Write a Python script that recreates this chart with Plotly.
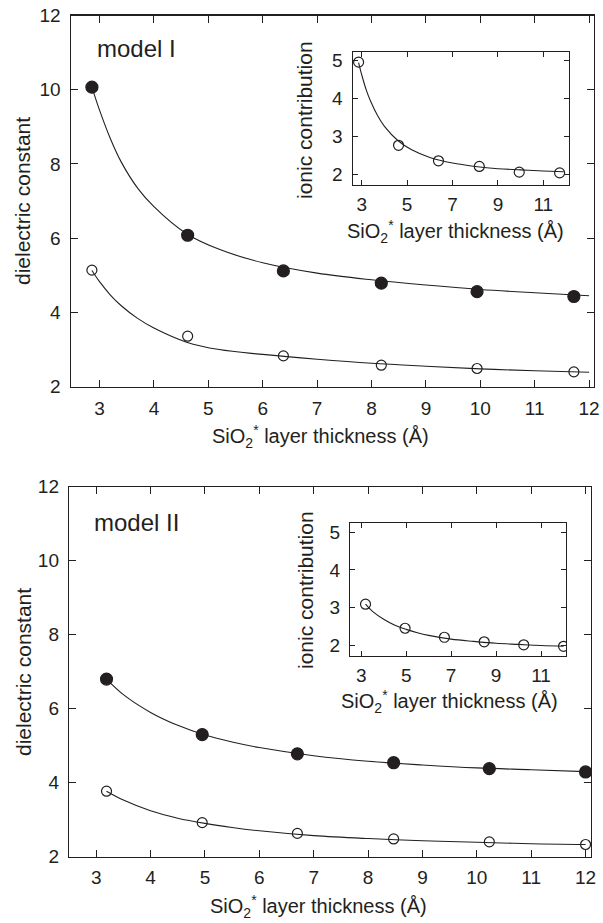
import plotly.graph_objects as go

INK = '#231f20'
FONT = 'Liberation Sans, Arial, Helvetica, sans-serif'
W, H = 603, 923

# ---------------- data ----------------
# model I
x_I = [2.86, 4.62, 6.38, 8.18, 9.94, 11.72]
total_I = [10.07, 6.08, 5.12, 4.79, 4.56, 4.43]
elec_I = [5.14, 3.36, 2.83, 2.58, 2.49, 2.40]
ionic_I = [4.96, 2.76, 2.35, 2.20, 2.05, 2.03]

fitx_I = [2.86, 3.0, 3.2, 3.4, 3.7, 4.0, 4.6, 5.2, 6.0, 7.0, 8.0, 9.0, 10.0, 11.0, 12.0]
fit_total_I = [10.07, 9.45, 8.68, 8.05, 7.35, 6.85, 6.12, 5.70, 5.34, 5.06, 4.88, 4.74, 4.62, 4.53, 4.45]
fit_elec_I = [5.13, 4.83, 4.47, 4.18, 3.84, 3.58, 3.20, 3.00, 2.87, 2.74, 2.63, 2.55, 2.48, 2.43, 2.39]
fitx_ion_I = [2.86, 3.0, 3.2, 3.4, 3.7, 4.0, 4.6, 5.2, 6.0, 7.0, 8.0, 9.0, 10.0, 11.0, 11.9]
fit_ionic_I = [4.95, 4.62, 4.22, 3.91, 3.54, 3.26, 2.88, 2.64, 2.44, 2.29, 2.20, 2.14, 2.11, 2.08, 2.06]

# model II
x_II = [3.19, 4.95, 6.70, 8.47, 10.23, 12.0]
total_II = [6.80, 5.30, 4.78, 4.54, 4.38, 4.29]
elec_II = [3.77, 2.92, 2.63, 2.48, 2.40, 2.33]
ionic_II = [3.09, 2.45, 2.21, 2.09, 2.01, 1.97]

fitx_II = [3.19, 3.5, 4.0, 4.5, 5.0, 5.5, 6.0, 7.0, 8.0, 9.0, 10.0, 11.0, 12.0]
fit_total_II = [6.80, 6.38, 5.90, 5.55, 5.29, 5.10, 4.95, 4.73, 4.58, 4.48, 4.40, 4.35, 4.30]
fit_elec_II = [3.77, 3.53, 3.24, 3.04, 2.90, 2.79, 2.70, 2.57, 2.49, 2.43, 2.39, 2.35, 2.33]
fit_ionic_II = [3.09, 2.90, 2.69, 2.53, 2.42, 2.33, 2.26, 2.16, 2.10, 2.05, 2.02, 1.99, 1.97]

main_xticks = [3, 4, 5, 6, 7, 8, 9, 10, 11, 12]
main_yticks = [2, 4, 6, 8, 10, 12]
inset_xticks = [3, 5, 7, 9, 11]
inset_yticks = [2, 3, 4, 5]

XTITLE = 'SiO<sub>2</sub><sup>*</sup> layer thickness (Å)'


def px(x):
    return x / W


def py(y):
    return 1 - y / H


fig = go.Figure()


def line(xs, ys, xa, ya):
    fig.add_trace(go.Scatter(x=xs, y=ys, mode='lines', xaxis=xa, yaxis=ya,
                             line=dict(color=INK, width=1.1, shape='spline', smoothing=1.0),
                             showlegend=False, hoverinfo='skip'))


def pts(xs, ys, xa, ya, filled, size):
    fig.add_trace(go.Scatter(x=xs, y=ys, mode='markers', xaxis=xa, yaxis=ya,
                             marker=dict(symbol='circle' if filled else 'circle-open', size=size,
                                         color=INK, line=dict(color=INK, width=1.2)),
                             showlegend=False))


# model I main
line(fitx_I, fit_total_I, 'x', 'y')
line(fitx_I, fit_elec_I, 'x', 'y')
pts(x_I, total_I, 'x', 'y', True, 12)
pts(x_I, elec_I, 'x', 'y', False, 10)
# model I inset
line(fitx_ion_I, fit_ionic_I, 'x2', 'y2')
pts(x_I, ionic_I, 'x2', 'y2', False, 10)
# model II main
line(fitx_II, fit_total_II, 'x3', 'y3')
line(fitx_II, fit_elec_II, 'x3', 'y3')
pts(x_II, total_II, 'x3', 'y3', True, 12)
pts(x_II, elec_II, 'x3', 'y3', False, 10)
# model II inset
line(fitx_II, fit_ionic_II, 'x4', 'y4')
pts(x_II, ionic_II, 'x4', 'y4', False, 10)


def ax(domain, rng, ticks, anchor, size, tlen, standoff):
    return dict(domain=domain, range=rng, tickvals=ticks, anchor=anchor,
                showline=True, linecolor=INK, linewidth=1.2, mirror='allticks',
                ticks='inside', ticklen=tlen, tickwidth=1, tickcolor=INK,
                showgrid=False, zeroline=False, fixedrange=True, automargin=False,
                tickfont=dict(family=FONT, size=size, color=INK),
                ticklabelstandoff=standoff)


fig.update_layout(
    template='none',
    width=W, height=H, margin=dict(l=0, r=0, t=0, b=0, pad=0, autoexpand=False),
    paper_bgcolor='white', plot_bgcolor='white', showlegend=False,
    xaxis=ax([px(70.7), px(594)], [2.47, 12.09], main_xticks, 'y', 19, 7, 4),
    yaxis=ax([py(386.7), py(15.5)], [2, 12], main_yticks, 'x', 19, 7, 5),
    xaxis2=ax([px(352.7), px(568.7)], [2.6, 12.12], inset_xticks, 'y2', 19, 5, 2),
    yaxis2=ax([py(185), py(52.3)], [1.71, 5.22], inset_yticks, 'x2', 19, 5, 5),
    xaxis3=ax([px(69), px(591)], [2.5, 12.1], main_xticks, 'y3', 19, 7, 3),
    yaxis3=ax([py(856.7), py(486.7)], [2, 12], main_yticks, 'x3', 19, 7, 5),
    xaxis4=ax([px(350), px(566)], [2.5, 12.11], inset_xticks, 'y4', 19, 5, 2),
    yaxis4=ax([py(655.7), py(523.3)], [1.72, 5.24], inset_yticks, 'x4', 19, 5, 5),
)


def text(t, x, y, size, angle=0, xanchor='center'):
    fig.add_annotation(text=t, x=px(x), y=py(y), xref='paper', yref='paper',
                       xanchor=xanchor, yanchor='middle', textangle=angle,
                       showarrow=False, font=dict(family=FONT, size=size, color=INK))


# model I texts
text('model I', 95, 48, 24, xanchor='left')
text('dielectric constant', 23, 201, 21, angle=-90)
text(XTITLE, 320, 436, 20)
text('ionic contribution', 305, 120, 21, angle=-90)
text(XTITLE, 455, 232, 20)
# model II texts
text('model II', 92, 522, 24, xanchor='left')
text('dielectric constant', 23, 672, 21, angle=-90)
text(XTITLE, 318, 906, 20)
text('ionic contribution', 305, 590, 21, angle=-90)
text(XTITLE, 449, 701, 20)

fig.write_html('out.html',
               config={'displayModeBar': False, 'staticPlot': True},
               post_script="document.body.style.margin='0';"
                           "document.body.style.padding='0';"
                           "document.body.style.overflow='hidden';")
